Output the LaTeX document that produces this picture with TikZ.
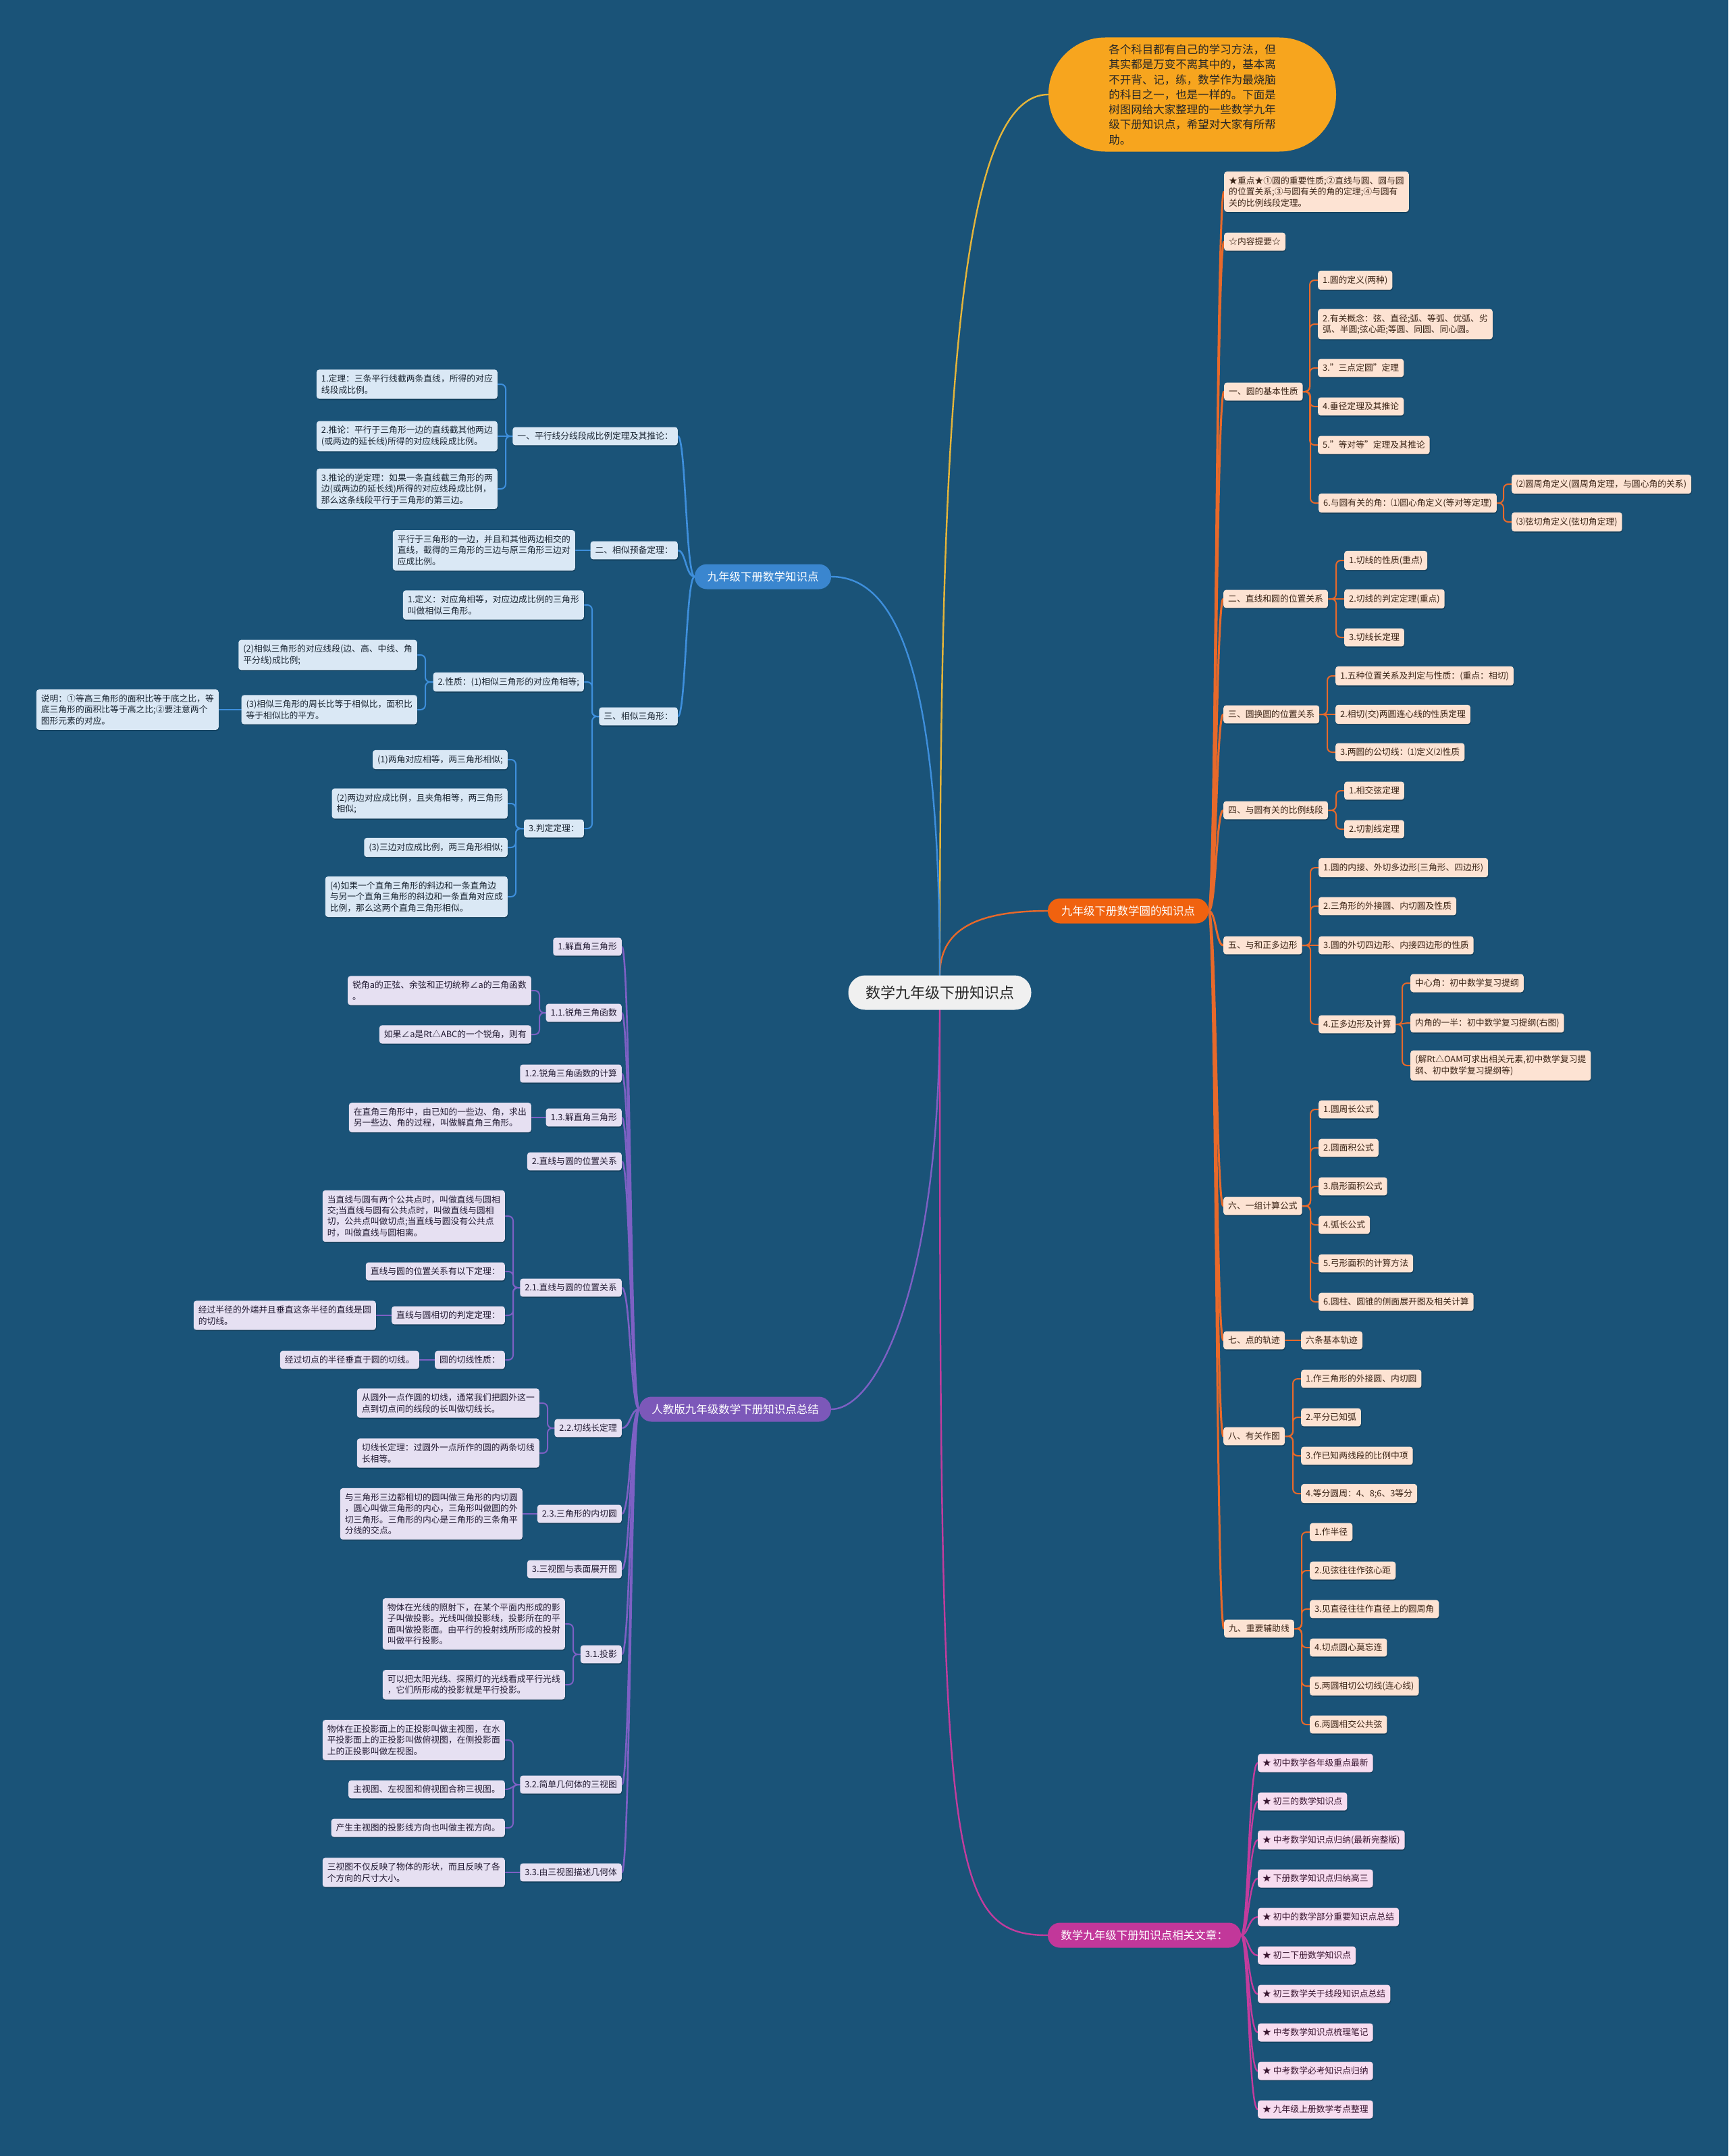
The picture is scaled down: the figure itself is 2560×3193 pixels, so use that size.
\documentclass[tikz,border=0pt]{standalone}
\usepackage{fontspec}
\setmainfont{Noto Sans CJK SC}
\usetikzlibrary{calc,shadows}
\pgfdeclarelayer{back}
\pgfdeclarelayer{lines}
\pgfsetlayers{back,lines,main}
\definecolor{bgc}{HTML}{1A5378}
\definecolor{ofill}{HTML}{FDE3D3}
\definecolor{otext}{HTML}{3A2315}
\definecolor{olc}{HTML}{E8692A}
\definecolor{orc}{HTML}{F0620F}
\definecolor{bfill}{HTML}{DAE8F5}
\definecolor{btext}{HTML}{1B2633}
\definecolor{blc}{HTML}{3E8FDC}
\definecolor{bnc}{HTML}{3A86CF}
\definecolor{pfill}{HTML}{E6E0F2}
\definecolor{ptext}{HTML}{221B33}
\definecolor{plc}{HTML}{7D60C4}
\definecolor{pnc}{HTML}{7C58B9}
\definecolor{mfill}{HTML}{F7DCEF}
\definecolor{mtext}{HTML}{3A1731}
\definecolor{mlc}{HTML}{C33C9D}
\definecolor{mnc}{HTML}{C2379A}
\definecolor{yfill}{HTML}{F7A51E}
\definecolor{ylc}{HTML}{E5B53A}
\definecolor{rfill}{HTML}{F0F0F0}
\newcommand\LtR[3]{\begin{pgfonlayer}{lines}\draw[#1] (#2.east) .. controls ($(#2.east)+(11,0)$) and ($(#2.east|-#3.west)+(11,0)$) .. (#3.west);\end{pgfonlayer}}
\newcommand\LtL[3]{\begin{pgfonlayer}{lines}\draw[#1] (#2.west) .. controls ($(#2.west)+(-13,0)$) and ($(#2.west|-#3.east)+(-13,0)$) .. (#3.east);\end{pgfonlayer}}
\newcommand\BrR[3]{\begin{pgfonlayer}{lines}\draw[#1,rounded corners=7pt] (#2.east) -| ([xshift=-12pt]#3.west) -- (#3.west);\end{pgfonlayer}}
\newcommand\BrL[3]{\begin{pgfonlayer}{lines}\draw[#1,rounded corners=7pt] (#2.west) -| ([xshift=12pt]#3.east) -- (#3.east);\end{pgfonlayer}}
\newcommand\SR[3]{\begin{pgfonlayer}{lines}\draw[#1] (#2.east) .. controls +(12,0) and +(-12,0) .. (#3.west);\end{pgfonlayer}}
\newcommand\SL[3]{\begin{pgfonlayer}{lines}\draw[#1] (#2.west) .. controls +(-12,0) and +(12,0) .. (#3.east);\end{pgfonlayer}}
\begin{document}
\begin{tikzpicture}[x=1pt,y=-1pt,
 base/.style={rounded corners=4pt, inner xsep=7pt, inner ysep=7.5pt, align=left, font=\fontsize{12.8}{16.4}\selectfont, general shadow={fill=black,opacity=0.22,shadow xshift=0.8pt,shadow yshift=-1.6pt}},
 onode/.style={base,fill=ofill,text=otext},
 bnode/.style={base,fill=bfill,text=btext},
 pnode/.style={base,fill=pfill,text=ptext},
 mnode/.style={base,fill=mfill,text=mtext},
 branch/.style={rounded corners=18pt, minimum height=37pt, inner xsep=8pt, inner ysep=0pt, text=white, font=\fontsize{16.5}{20}\selectfont},
 oline/.style={draw=olc,line width=2pt,line cap=round},
 oline2/.style={draw=olc,line width=3pt,line cap=round},
 bline/.style={draw=blc,line width=2pt,line cap=round},
 bline2/.style={draw=blc,line width=2.6pt,line cap=round},
 pline/.style={draw=plc,line width=2pt,line cap=round},
 pline2/.style={draw=plc,line width=2.6pt,line cap=round},
 mline2/.style={draw=mlc,line width=2.4pt,line cap=round},
 rootline/.style={line width=2.4pt,line cap=round}]
\begin{pgfonlayer}{back}
\fill[bgc] (0,0) rectangle (2560,3193);
\end{pgfonlayer}
\useasboundingbox (0,0) rectangle (2560,3193);

% ---------- root and main branches ----------
\node[fill=rfill, rounded corners=25pt, minimum width=271pt, minimum height=51pt, inner sep=0pt, text=black!85, font=\fontsize{22}{26}\selectfont] (root) at (1392,1470) {数学九年级下册知识点};
\node[fill=yfill, rounded corners=84pt, minimum width=426pt, minimum height=169pt, inner sep=0pt, align=left, text=black!85, font=\fontsize{16.5}{22.3}\selectfont] (bub) at (1766,140) {各个科目都有自己的学习方法，但\\其实都是万变不离其中的，基本离\\不开背、记，练，数学作为最烧脑\\的科目之一，也是一样的。下面是\\树图网给大家整理的一些数学九年\\级下册知识点，希望对大家有所帮\\助。};
\node[branch, fill=orc, minimum width=238pt] (orn) at (1671,1349) {九年级下册数学圆的知识点};
\node[branch, fill=bnc, minimum width=202pt] (bln) at (1130,854) {九年级下册数学知识点};
\node[branch, fill=pnc, minimum width=284pt] (pun) at (1089,2087) {人教版九年级数学下册知识点总结};
\node[branch, fill=mnc, minimum width=286pt] (mgn) at (1695,2866) {数学九年级下册知识点相关文章：};

\begin{pgfonlayer}{lines}
\draw[rootline, draw=ylc] (root.north) .. controls (1392,600) and (1420,140) .. (bub.west);
\draw[rootline, draw=olc] (root.north) .. controls (1392,1380) and (1440,1349) .. (orn.west);
\draw[rootline, draw=blc] (bln.east) .. controls (1330,854) and (1392,1000) .. (root.north);
\draw[rootline, draw=plc] (root.south) .. controls (1392,1900) and (1300,2087) .. (pun.east);
\draw[rootline, draw=mlc] (root.south) .. controls (1392,2750) and (1400,2866) .. (mgn.west);
\end{pgfonlayer}

% ---------- orange branch ----------
\node[onode,anchor=west] (zd) at (1813,284) {★重点★①圆的重要性质;②直线与圆、圆与圆\\的位置关系;③与圆有关的角的定理;④与圆有\\关的比例线段定理。};
\node[onode,anchor=west] (nr) at (1813,358) {☆内容提要☆};
\node[onode,anchor=west] (o1) at (1813,580) {一、圆的基本性质};
\node[onode,anchor=west] (o1a) at (1952,415) {1.圆的定义(两种)};
\node[onode,anchor=west] (o1b) at (1952,480) {2.有关概念：弦、直径;弧、等弧、优弧、劣\\弧、半圆;弦心距;等圆、同圆、同心圆。};
\node[onode,anchor=west] (o1c) at (1952,545) {3."三点定圆"定理};
\node[onode,anchor=west] (o1d) at (1952,602) {4.垂径定理及其推论};
\node[onode,anchor=west] (o1e) at (1952,659) {5."等对等"定理及其推论};
\node[onode,anchor=west] (o1f) at (1953,745) {6.与圆有关的角：⑴圆心角定义(等对等定理)};
\node[onode,anchor=west] (o1f1) at (2239,717) {⑵圆周角定义(圆周角定理，与圆心角的关系)};
\node[onode,anchor=west] (o1f2) at (2239,773) {⑶弦切角定义(弦切角定理)};
\node[onode,anchor=west] (o2) at (1812,887) {二、直线和圆的位置关系};
\node[onode,anchor=west] (o2a) at (1991,830) {1.切线的性质(重点)};
\node[onode,anchor=west] (o2b) at (1991,887) {2.切线的判定定理(重点)};
\node[onode,anchor=west] (o2c) at (1991,944) {3.切线长定理};
\node[onode,anchor=west] (o3) at (1812,1058) {三、圆换圆的位置关系};
\node[onode,anchor=west] (o3a) at (1978,1001) {1.五种位置关系及判定与性质：(重点：相切)};
\node[onode,anchor=west] (o3b) at (1978,1058) {2.相切(交)两圆连心线的性质定理};
\node[onode,anchor=west] (o3c) at (1978,1114) {3.两圆的公切线：⑴定义⑵性质};
\node[onode,anchor=west] (o4) at (1812,1200) {四、与圆有关的比例线段};
\node[onode,anchor=west] (o4a) at (1991,1171) {1.相交弦定理};
\node[onode,anchor=west] (o4b) at (1991,1228) {2.切割线定理};
\node[onode,anchor=west] (o5) at (1812,1400) {五、与和正多边形};
\node[onode,anchor=west] (o5a) at (1953,1285) {1.圆的内接、外切多边形(三角形、四边形)};
\node[onode,anchor=west] (o5b) at (1953,1342) {2.三角形的外接圆、内切圆及性质};
\node[onode,anchor=west] (o5c) at (1953,1400) {3.圆的外切四边形、内接四边形的性质};
\node[onode,anchor=west] (o5d) at (1953,1517) {4.正多边形及计算};
\node[onode,anchor=west] (o5d1) at (2089,1456) {中心角：初中数学复习提纲};
\node[onode,anchor=west] (o5d2) at (2089,1515) {内角的一半：初中数学复习提纲(右图)};
\node[onode,anchor=west] (o5d3) at (2089,1578) {(解Rt△OAM可求出相关元素,初中数学复习提\\纲、初中数学复习提纲等)};
\node[onode,anchor=west] (o6) at (1812,1786) {六、一组计算公式};
\node[onode,anchor=west] (o6a) at (1953,1643) {1.圆周长公式};
\node[onode,anchor=west] (o6b) at (1953,1700) {2.圆面积公式};
\node[onode,anchor=west] (o6c) at (1953,1757) {3.扇形面积公式};
\node[onode,anchor=west] (o6d) at (1953,1814) {4.弧长公式};
\node[onode,anchor=west] (o6e) at (1953,1871) {5.弓形面积的计算方法};
\node[onode,anchor=west] (o6f) at (1953,1928) {6.圆柱、圆锥的侧面展开图及相关计算};
\node[onode,anchor=west] (o7) at (1812,1985) {七、点的轨迹};
\node[onode,anchor=west] (o7a) at (1927,1985) {六条基本轨迹};
\node[onode,anchor=west] (o8) at (1812,2127) {八、有关作图};
\node[onode,anchor=west] (o8a) at (1927,2042) {1.作三角形的外接圆、内切圆};
\node[onode,anchor=west] (o8b) at (1927,2099) {2.平分已知弧};
\node[onode,anchor=west] (o8c) at (1927,2156) {3.作已知两线段的比例中项};
\node[onode,anchor=west] (o8d) at (1927,2212) {4.等分圆周：4、8;6、3等分};
\node[onode,anchor=west] (o9) at (1813,2412) {九、重要辅助线};
\node[onode,anchor=west] (o9a) at (1940,2269) {1.作半径};
\node[onode,anchor=west] (o9b) at (1940,2326) {2.见弦往往作弦心距};
\node[onode,anchor=west] (o9c) at (1940,2383) {3.见直径往往作直径上的圆周角};
\node[onode,anchor=west] (o9d) at (1940,2440) {4.切点圆心莫忘连};
\node[onode,anchor=west] (o9e) at (1940,2497) {5.两圆相切公切线(连心线)};
\node[onode,anchor=west] (o9f) at (1940,2554) {6.两圆相交公共弦};

\foreach \c in {zd,nr,o1,o2,o3,o4,o5,o6,o7,o8,o9} {\LtR{oline2}{orn}{\c}}
\foreach \c in {o1a,o1b,o1c,o1d,o1e,o1f} {\BrR{oline}{o1}{\c}}
\foreach \c in {o1f1,o1f2} {\BrR{oline}{o1f}{\c}}
\foreach \c in {o2a,o2c} {\BrR{oline}{o2}{\c}}
\SR{oline}{o2}{o2b}
\foreach \c in {o3a,o3c} {\BrR{oline}{o3}{\c}}
\SR{oline}{o3}{o3b}
\foreach \c in {o4a,o4b} {\BrR{oline}{o4}{\c}}
\foreach \c in {o5a,o5b,o5d} {\BrR{oline}{o5}{\c}}
\SR{oline}{o5}{o5c}
\foreach \c in {o5d1,o5d3} {\BrR{oline}{o5d}{\c}}
\SR{oline}{o5d}{o5d2}
\foreach \c in {o6a,o6b,o6c,o6d,o6e,o6f} {\BrR{oline}{o6}{\c}}
\SR{oline}{o7}{o7a}
\foreach \c in {o8a,o8b,o8c,o8d} {\BrR{oline}{o8}{\c}}
\foreach \c in {o9a,o9b,o9c,o9d,o9e,o9f} {\BrR{oline}{o9}{\c}}

% ---------- magenta branch ----------
\node[mnode,anchor=west] (m1) at (1863,2611) {★ 初中数学各年级重点最新};
\node[mnode,anchor=west] (m2) at (1863,2668) {★ 初三的数学知识点};
\node[mnode,anchor=west] (m3) at (1863,2725) {★ 中考数学知识点归纳(最新完整版)};
\node[mnode,anchor=west] (m4) at (1863,2782) {★ 下册数学知识点归纳高三};
\node[mnode,anchor=west] (m5) at (1863,2839) {★ 初中的数学部分重要知识点总结};
\node[mnode,anchor=west] (m6) at (1863,2896) {★ 初二下册数学知识点};
\node[mnode,anchor=west] (m7) at (1863,2953) {★ 初三数学关于线段知识点总结};
\node[mnode,anchor=west] (m8) at (1863,3010) {★ 中考数学知识点梳理笔记};
\node[mnode,anchor=west] (m9) at (1863,3067) {★ 中考数学必考知识点归纳};
\node[mnode,anchor=west] (m10) at (1863,3124) {★ 九年级上册数学考点整理};
\foreach \c in {m1,m2,m3,m4,m5,m6,m7,m8,m9,m10} {\LtR{mline2}{mgn}{\c}}

% ---------- blue branch ----------
\node[bnode,anchor=east] (b1) at (1004,646) {一、平行线分线段成比例定理及其推论：};
\node[bnode,anchor=east] (b1a) at (737,569) {1.定理：三条平行线截两条直线，所得的对应\\线段成比例。};
\node[bnode,anchor=east] (b1b) at (737,646) {2.推论：平行于三角形一边的直线截其他两边\\(或两边的延长线)所得的对应线段成比例。};
\node[bnode,anchor=east] (b1c) at (737,724) {3.推论的逆定理：如果一条直线截三角形的两\\边(或两边的延长线)所得的对应线段成比例，\\那么这条线段平行于三角形的第三边。};
\node[bnode,anchor=east] (b2) at (1004,815) {二、相似预备定理：};
\node[bnode,anchor=east] (b2a) at (852,815) {平行于三角形的一边，并且和其他两边相交的\\直线，截得的三角形的三边与原三角形三边对\\应成比例。};
\node[bnode,anchor=east] (b3) at (1004,1061) {三、相似三角形：};
\node[bnode,anchor=east] (b3a) at (865,896) {1.定义：对应角相等，对应边成比例的三角形\\叫做相似三角形。};
\node[bnode,anchor=east] (b3b) at (865,1010) {2.性质：(1)相似三角形的对应角相等;};
\node[bnode,anchor=east] (b3b1) at (618,970) {(2)相似三角形的对应线段(边、高、中线、角\\平分线)成比例;};
\node[bnode,anchor=east] (b3b2) at (618,1051) {(3)相似三角形的周长比等于相似比，面积比\\等于相似比的平方。};
\node[bnode,anchor=east] (b3b2a) at (324,1051) {说明：①等高三角形的面积比等于底之比，等\\底三角形的面积比等于高之比;②要注意两个\\图形元素的对应。};
\node[bnode,anchor=east] (b3c) at (865,1227) {3.判定定理：};
\node[bnode,anchor=east] (b3c1) at (752,1125) {(1)两角对应相等，两三角形相似;};
\node[bnode,anchor=east] (b3c2) at (752,1190) {(2)两边对应成比例，且夹角相等，两三角形\\相似;};
\node[bnode,anchor=east] (b3c3) at (752,1255) {(3)三边对应成比例，两三角形相似;};
\node[bnode,anchor=east] (b3c4) at (752,1328) {(4)如果一个直角三角形的斜边和一条直角边\\与另一个直角三角形的斜边和一条直角对应成\\比例，那么这两个直角三角形相似。};
\foreach \c in {b1,b2,b3} {\LtL{bline2}{bln}{\c}}
\foreach \c in {b1a,b1c} {\BrL{bline}{b1}{\c}}
\SL{bline}{b1}{b1b}
\SL{bline}{b2}{b2a}
\foreach \c in {b3a,b3b,b3c} {\BrL{bline}{b3}{\c}}
\foreach \c in {b3b1,b3b2} {\BrL{bline}{b3b}{\c}}
\SL{bline}{b3b2}{b3b2a}
\foreach \c in {b3c1,b3c2,b3c3,b3c4} {\BrL{bline}{b3c}{\c}}

% ---------- purple branch ----------
\node[pnode,anchor=east] (p1) at (921,1402) {1.解直角三角形};
\node[pnode,anchor=east] (p2) at (921,1500) {1.1.锐角三角函数};
\node[pnode,anchor=east] (p2a) at (787,1467) {锐角a的正弦、余弦和正切统称∠a的三角函数\\。};
\node[pnode,anchor=east] (p2b) at (787,1532) {如果∠a是Rt△ABC的一个锐角，则有};
\node[pnode,anchor=east] (p3) at (921,1590) {1.2.锐角三角函数的计算};
\node[pnode,anchor=east] (p4) at (921,1655) {1.3.解直角三角形};
\node[pnode,anchor=east] (p4a) at (787,1655) {在直角三角形中，由已知的一些边、角，求出\\另一些边、角的过程，叫做解直角三角形。};
\node[pnode,anchor=east] (p5) at (921,1720) {2.直线与圆的位置关系};
\node[pnode,anchor=east] (p6) at (921,1907) {2.1.直线与圆的位置关系};
\node[pnode,anchor=east] (p6a) at (748,1801) {当直线与圆有两个公共点时，叫做直线与圆相\\交;当直线与圆有公共点时，叫做直线与圆相\\切，公共点叫做切点;当直线与圆没有公共点\\时，叫做直线与圆相离。};
\node[pnode,anchor=east] (p6b) at (748,1883) {直线与圆的位置关系有以下定理：};
\node[pnode,anchor=east] (p6c) at (748,1948) {直线与圆相切的判定定理：};
\node[pnode,anchor=east] (p6c1) at (557,1948) {经过半径的外端并且垂直这条半径的直线是圆\\的切线。};
\node[pnode,anchor=east] (p6d) at (748,2014) {圆的切线性质：};
\node[pnode,anchor=east] (p6d1) at (621,2014) {经过切点的半径垂直于圆的切线。};
\node[pnode,anchor=east] (p7) at (921,2115) {2.2.切线长定理};
\node[pnode,anchor=east] (p7a) at (799,2078) {从圆外一点作圆的切线，通常我们把圆外这一\\点到切点间的线段的长叫做切线长。};
\node[pnode,anchor=east] (p7b) at (799,2152) {切线长定理：过圆外一点所作的圆的两条切线\\长相等。};
\node[pnode,anchor=east] (p8) at (921,2242) {2.3.三角形的内切圆};
\node[pnode,anchor=east] (p8a) at (774,2242) {与三角形三边都相切的圆叫做三角形的内切圆\\，圆心叫做三角形的内心，三角形叫做圆的外\\切三角形。三角形的内心是三角形的三条角平\\分线的交点。};
\node[pnode,anchor=east] (p9) at (921,2324) {3.三视图与表面展开图};
\node[pnode,anchor=east] (p10) at (921,2450) {3.1.投影};
\node[pnode,anchor=east] (p10a) at (837,2405) {物体在光线的照射下，在某个平面内形成的影\\子叫做投影。光线叫做投影线，投影所在的平\\面叫做投影面。由平行的投射线所形成的投射\\叫做平行投影。};
\node[pnode,anchor=east] (p10b) at (837,2495) {可以把太阳光线、探照灯的光线看成平行光线\\，它们所形成的投影就是平行投影。};
\node[pnode,anchor=east] (p11) at (921,2643) {3.2.简单几何体的三视图};
\node[pnode,anchor=east] (p11a) at (748,2577) {物体在正投影面上的正投影叫做主视图，在水\\平投影面上的正投影叫做俯视图，在侧投影面\\上的正投影叫做左视图。};
\node[pnode,anchor=east] (p11b) at (748,2650) {主视图、左视图和俯视图合称三视图。};
\node[pnode,anchor=east] (p11c) at (748,2707) {产生主视图的投影线方向也叫做主视方向。};
\node[pnode,anchor=east] (p12) at (921,2773) {3.3.由三视图描述几何体};
\node[pnode,anchor=east] (p12a) at (748,2773) {三视图不仅反映了物体的形状，而且反映了各\\个方向的尺寸大小。};
\foreach \c in {p1,p2,p3,p4,p5,p6,p7,p8,p9,p10,p11,p12} {\LtL{pline2}{pun}{\c}}
\foreach \c in {p2a,p2b} {\BrL{pline}{p2}{\c}}
\SL{pline}{p4}{p4a}
\foreach \c in {p6a,p6b,p6c,p6d} {\BrL{pline}{p6}{\c}}
\SL{pline}{p6c}{p6c1}
\SL{pline}{p6d}{p6d1}
\foreach \c in {p7a,p7b} {\BrL{pline}{p7}{\c}}
\SL{pline}{p8}{p8a}
\foreach \c in {p10a,p10b} {\BrL{pline}{p10}{\c}}
\foreach \c in {p11a,p11c} {\BrL{pline}{p11}{\c}}
\SL{pline}{p11}{p11b}
\SL{pline}{p12}{p12a}
\end{tikzpicture}
\end{document}
